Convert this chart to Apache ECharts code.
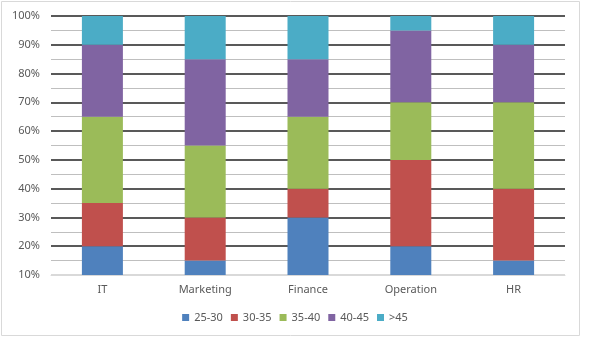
<!DOCTYPE html>
<html><head><meta charset="utf-8">
<script src="https://cdn.jsdelivr.net/npm/echarts@6/dist/echarts.min.js"></script>
<style>html,body{margin:0;padding:0;background:#fff}#c{width:590px;height:345px}</style>
</head><body><div id="c"></div>
<script>
const categories = ['IT', 'Marketing', 'Finance', 'Operation', 'HR'];
const s25_30 = [20, 15, 30, 20, 15];
const s30_35 = [15, 15, 10, 30, 25];
const s35_40 = [30, 25, 25, 20, 30];
const s40_45 = [25, 30, 20, 25, 20];
const s45p   = [10, 15, 15, 5, 10];
const seriesNames = ['25-30', '30-35', '35-40', '40-45', '>45'];
const seriesData = [s25_30, s30_35, s35_40, s40_45, s45p];
const colors = ['#4f81bd', '#c0504d', '#9bbb59', '#8064a2', '#4bacc6'];
const font = '"Noto Sans", sans-serif';
const chart = echarts.init(document.getElementById('c'), null, {renderer: 'canvas'});
const splitColors = ['#d9d9d9'].concat(new Array(9).fill('#595959'));
chart.setOption({
  animation: false,
  color: colors,
  textStyle: {fontFamily: font},
  graphic: [{type: 'rect', shape: {x: 1.5, y: 1.5, width: 578, height: 334}, style: {fill: 'none', stroke: '#d9d9d9', lineWidth: 1}, silent: true}],
  grid: {left: 51, right: 25, top: 16, bottom: 70},
  legend: {
    bottom: 17, left: 'center', itemWidth: 7, itemHeight: 7, itemGap: 8,
    icon: 'rect',
    textStyle: {color: '#595959', fontSize: 11, fontFamily: font},
    data: seriesNames
  },
  xAxis: {
    type: 'category', data: categories,
    axisLine: {lineStyle: {color: '#d9d9d9', width: 1}},
    axisTick: {show: false},
    axisLabel: {color: '#595959', fontSize: 11, margin: 9, fontFamily: font}
  },
  yAxis: {
    type: 'value', min: 10, max: 100, interval: 10,
    axisLine: {show: false}, axisTick: {show: false},
    axisLabel: {color: '#595959', fontSize: 11, margin: 11, formatter: '{value}%', fontFamily: font},
    splitLine: {lineStyle: {color: splitColors, width: 2}},
    minorTick: {show: false, splitNumber: 2},
    minorSplitLine: {show: true, lineStyle: {color: '#bfbfbf', width: 1}}
  },
  series: seriesNames.map((n, i) => ({
    name: n, type: 'bar', stack: 'total', data: seriesData[i],
    barWidth: 41, clip: true, z: 3
  }))
});
</script></body></html>
